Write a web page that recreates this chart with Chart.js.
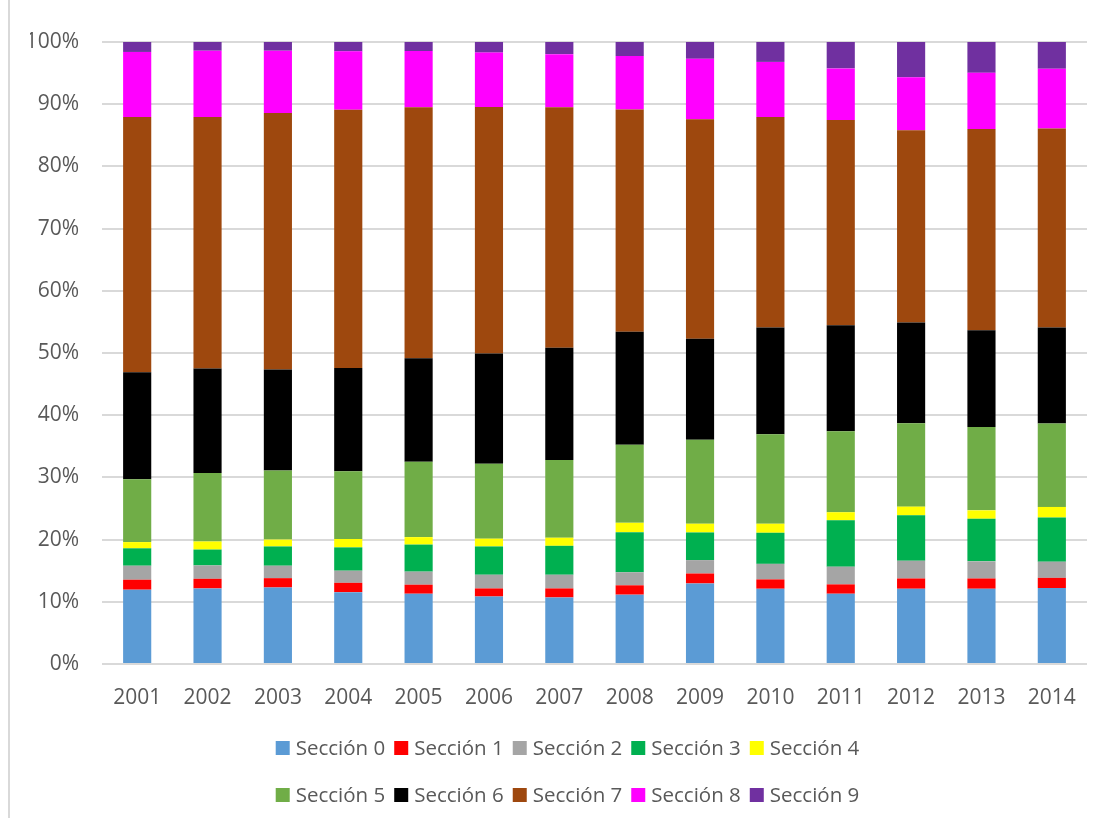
<!DOCTYPE html>
<html>
<head>
<meta charset="utf-8">
<script src="https://cdn.jsdelivr.net/npm/chart.js@4"></script>
<style>
  body { margin: 0; background: #fff; }
  #marco { position: absolute; left: 8px; top: 0; height: 818px; border-left: 2px solid #d9d9d9; }
</style>
</head>
<body>
<div id="marco"></div>
<canvas id="myChart" width="1103" height="818"></canvas>
<script>
const years = ["2001", "2002", "2003", "2004", "2005", "2006", "2007", "2008", "2009", "2010", "2011", "2012", "2013", "2014"];

const seccion0 = [11.95, 12.15, 12.3, 11.55, 11.3, 10.85, 10.7, 11.15, 12.95, 12.1, 11.3, 12.1, 12.1, 12.2];
const seccion1 = [1.6, 1.55, 1.5, 1.5, 1.45, 1.3, 1.45, 1.5, 1.6, 1.5, 1.5, 1.65, 1.65, 1.65];
const seccion2 = [2.25, 2.15, 2.0, 1.95, 2.1, 2.2, 2.2, 2.1, 2.15, 2.5, 2.85, 2.85, 2.75, 2.6];
const seccion3 = [2.8, 2.55, 3.1, 3.75, 4.35, 4.55, 4.65, 6.45, 4.45, 5.0, 7.45, 7.3, 6.85, 7.1];
const seccion4 = [1.0, 1.3, 1.1, 1.35, 1.2, 1.25, 1.3, 1.5, 1.4, 1.45, 1.3, 1.4, 1.35, 1.7];
const seccion5 = [10.1, 11.0, 11.1, 10.9, 12.1, 12.05, 12.5, 12.55, 13.5, 14.4, 13.0, 13.4, 13.4, 13.4];
const seccion6 = [17.2, 16.8, 16.25, 16.6, 16.65, 17.7, 18.05, 18.15, 16.25, 17.15, 17.05, 16.2, 15.55, 15.45];
const seccion7 = [41.05, 40.45, 41.25, 41.5, 40.35, 39.65, 38.65, 35.75, 35.3, 33.85, 33.0, 30.9, 32.35, 32.0];
const seccion8 = [10.45, 10.65, 10.0, 9.4, 9.05, 8.75, 8.55, 8.6, 9.7, 8.85, 8.3, 8.55, 9.05, 9.6];
const seccion9 = [1.6, 1.4, 1.4, 1.5, 1.45, 1.7, 1.95, 2.25, 2.7, 3.2, 4.25, 5.65, 4.95, 4.3];

const series = [seccion0, seccion1, seccion2, seccion3, seccion4, seccion5, seccion6, seccion7, seccion8, seccion9];
const nombres = ["Sección 0", "Sección 1", "Sección 2", "Sección 3", "Sección 4", "Sección 5", "Sección 6", "Sección 7", "Sección 8", "Sección 9"];
const colores = ["#5b9bd5", "#ff0000", "#a5a5a5", "#00b050", "#ffff00", "#70ad47", "#000000", "#9e480e", "#ff00ff", "#7030a0"];

const textColor = "#595959";
Chart.defaults.font.family = '"Open Sans", sans-serif';
Chart.defaults.color = textColor;

// leyenda en dos filas de cinco, como en el original
const leyendaFilas = {
  id: "leyendaFilas",
  afterDraw(chart) {
    const ctx = chart.ctx;
    const sets = chart.data.datasets;
    const caja = 14;
    const sep = 6;
    const hueco = 9;
    ctx.save();
    ctx.font = '20.5px "Open Sans", sans-serif';
    ctx.textBaseline = "middle";
    [sets.slice(0, 5), sets.slice(5)].forEach((fila, r) => {
      const anchos = fila.map((ds) => caja + sep + ctx.measureText(ds.label).width);
      const total = anchos.reduce((a, b) => a + b, 0) + hueco * (fila.length - 1);
      let x = chart.width / 2 + 16 - total / 2;
      const y = chart.chartArea.bottom + 84 + r * 47;
      fila.forEach((ds, i) => {
        ctx.fillStyle = ds.backgroundColor;
        ctx.fillRect(x, y - caja / 2, caja, caja);
        ctx.fillStyle = textColor;
        ctx.fillText(ds.label, x + caja + sep, y + 1);
        x += anchos[i] + hueco;
      });
    });
    ctx.restore();
  },
};

const datasets = series.map((valores, i) => {
  return {
    label: nombres[i],
    data: valores,
    backgroundColor: colores[i],
    borderWidth: 0,
    barPercentage: 0.4,
    categoryPercentage: 1,
  };
});

const myChart = new Chart(document.getElementById("myChart"), {
  type: "bar",
  data: { labels: years, datasets },
  options: {
    responsive: false,
    animation: false,
    layout: { padding: { left: 30, right: 16, top: 42, bottom: 110 } },
    plugins: {
      legend: { display: false },
      tooltip: { enabled: false },
    },
    scales: {
      x: {
        stacked: true,
        grid: { display: false },
        border: { display: false },
        ticks: { font: { size: 21 }, padding: 13, maxRotation: 0 },
        afterFit(scale) {
          scale.height = 44;
        },
      },
      y: {
        stacked: true,
        min: 0,
        max: 100,
        grid: { color: "#d9d9d9", lineWidth: 2, drawTicks: false },
        border: { display: false },
        ticks: {
          stepSize: 10,
          font: { size: 21 },
          padding: 23,
          callback: (v) => v + "%",
        },
        afterFit(scale) {
          scale.width = 72;
        },
      },
    },
  },
  plugins: [leyendaFilas],
});
</script>
</body>
</html>
